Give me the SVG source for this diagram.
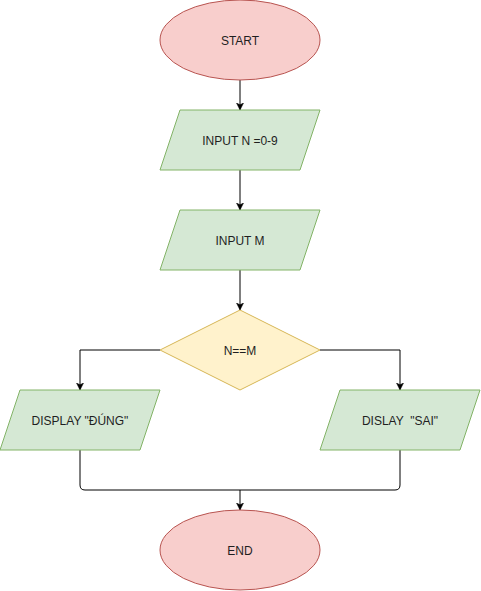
<svg xmlns="http://www.w3.org/2000/svg" width="481" height="591" viewBox="0 0 481 591">
<style>
.term{fill:#f8cecc;stroke:#b85450;stroke-width:1}
.io{fill:#d5e8d4;stroke:#82b366;stroke-width:1}
.dec{fill:#fff2cc;stroke:#d6b656;stroke-width:1}
.lbl{font-family:"Liberation Sans",Arial,sans-serif;font-size:12px;fill:#1f1f1f;text-anchor:middle;dominant-baseline:central}
.edge{fill:none;stroke:#000;stroke-width:1}
</style>
<defs>
<marker id="arr" markerWidth="8" markerHeight="8" refX="7" refY="4" orient="auto" markerUnits="userSpaceOnUse">
<path d="M0,0.5 L7,4 L0,7.5 L1.8,4 Z" fill="#000" stroke="#000" stroke-width="0.5"/>
</marker>
</defs>
<rect width="481" height="591" fill="#fff"/>
<g id="connectors">
<path class="edge" d="M240,80 L240,110" marker-end="url(#arr)"/>
<path class="edge" d="M240,170 L240,210" marker-end="url(#arr)"/>
<path class="edge" d="M240,270 L240,310" marker-end="url(#arr)"/>
<path class="edge" d="M160,350 L80,350 L80,390" marker-end="url(#arr)"/>
<path class="edge" d="M320,350 L400,350 L400,390" marker-end="url(#arr)"/>
<path class="edge" d="M80,450 L80,485 Q80,490 85,490 L240,490 L240,510" marker-end="url(#arr)"/>
<path class="edge" d="M400,450 L400,485 Q400,490 395,490 L240,490"/>
</g>
<g id="start">
<ellipse class="term" cx="240" cy="40" rx="80" ry="40"/>
<text class="lbl" x="240" y="41">START</text>
</g>
<g id="inputN">
<polygon class="io" points="180,110 320,110 300,170 160,170"/>
<text class="lbl" x="240" y="141">INPUT N =0-9</text>
</g>
<g id="inputM">
<polygon class="io" points="180,210 320,210 300,270 160,270"/>
<text class="lbl" x="240" y="241">INPUT M</text>
</g>
<g id="decision">
<polygon class="dec" points="240,310 320,350 240,390 160,350"/>
<text class="lbl" x="240" y="351">N==M</text>
</g>
<g id="displayDung">
<polygon class="io" points="20,390 160,390 140,450 0,450"/>
<text class="lbl" x="80" y="421">DISPLAY "ĐÚNG"</text>
</g>
<g id="displaySai">
<polygon class="io" points="340,390 480,390 460,450 320,450"/>
<text class="lbl" x="400" y="421" xml:space="preserve">DISLAY  "SAI"</text>
</g>
<g id="end">
<ellipse class="term" cx="240" cy="550" rx="80" ry="40"/>
<text class="lbl" x="240" y="551">END</text>
</g>
</svg>
